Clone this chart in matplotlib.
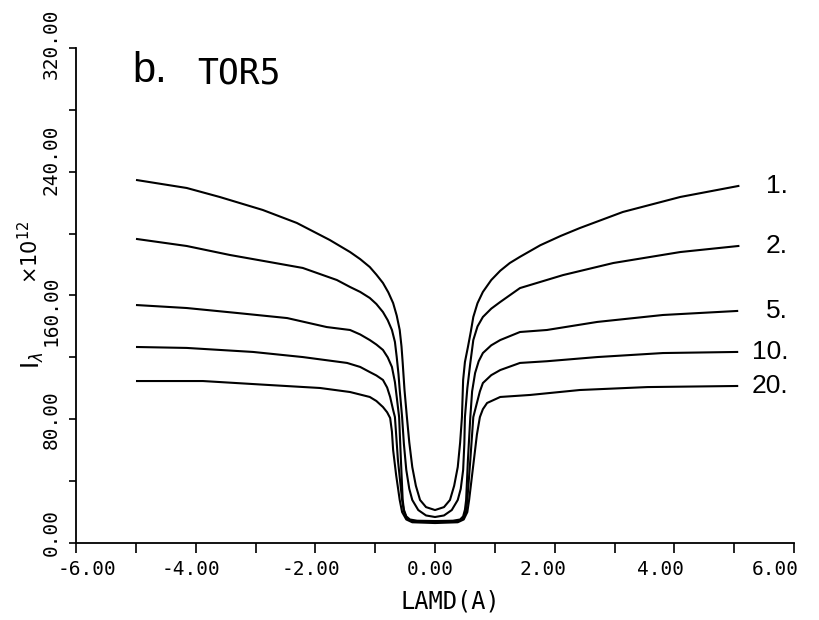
import numpy as np
import matplotlib
matplotlib.use("Agg")
from matplotlib import pyplot as plt
from matplotlib import transforms

# %% data (LAMD in A, I_lambda in units of 1e12)
lamd_1 = [-4.98, -4.15, -3.60, -2.88, -2.31, -1.76, -1.42, -1.25, -1.09, -0.98, -0.87, -0.78, -0.70, -0.64, -0.59,
          -0.56, -0.54, -0.51, -0.47, -0.43, -0.38, -0.32, -0.25, -0.15, 0.00,
          0.15, 0.25, 0.32, 0.38, 0.42, 0.45, 0.47, 0.50, 0.55, 0.60, 0.64, 0.71, 0.80, 0.94, 1.09, 1.25, 1.42, 1.76,
          2.10, 2.42, 3.14, 4.10, 5.07]
int_1 = [234.6, 229.5, 223.7, 215.3, 206.9, 195.9, 188.1, 183.5, 178.4, 173.5, 168.1, 162.0, 155.1, 147.0, 137.7,
         127.0, 116.4, 99.0, 81.4, 65.0, 49.1, 37.0, 27.8, 23.2, 21.3,
         23.2, 27.8, 37.0, 49.1, 65.0, 81.4, 105.4, 117.0, 126.7, 137.0, 146.1, 155.0, 162.3, 170.0, 176.0, 181.0, 185.0, 192.5,
         198.5, 203.6, 214.0, 223.7, 230.8]

lamd_2 = [-4.98, -4.15, -3.43, -2.76, -2.21, -1.64, -1.42, -1.25, -1.09, -0.98, -0.87, -0.79, -0.72, -0.67, -0.64,
          -0.61, -0.59, -0.55, -0.52, -0.48, -0.43, -0.38, -0.28, -0.15, 0.00,
          0.15, 0.28, 0.38, 0.43, 0.47, 0.49, 0.50, 0.54, 0.59, 0.64, 0.71, 0.80, 0.94, 1.09, 1.42, 2.14, 2.98, 4.10, 5.07]
int_2 = [196.5, 192.0, 186.2, 181.6, 177.8, 170.0, 165.5, 162.3, 158.4, 154.5, 149.3, 144.0, 137.7, 130.0, 120.2,
         109.0, 98.9, 81.4, 64.0, 47.2, 35.0, 27.8, 21.3, 17.8, 16.8,
         17.8, 21.3, 27.8, 35.0, 47.2, 64.0, 81.4, 100.0, 116.4, 131.2, 140.0, 146.1, 151.5, 155.8, 164.8, 173.2, 181.0, 188.1, 192.0]

lamd_5 = [-4.98, -4.15, -3.31, -2.47, -1.81, -1.42, -1.25, -1.09, -0.98, -0.87, -0.79, -0.72, -0.67, -0.64, -0.60,
          -0.57, -0.54, -0.52, -0.48, -0.42, -0.30, 0.00,
          0.30, 0.42, 0.47, 0.50, 0.52, 0.55, 0.59, 0.62, 0.67, 0.73, 0.80, 0.94, 1.09, 1.42, 1.87, 2.71, 3.81, 5.05]
int_5 = [153.8, 151.9, 148.7, 145.4, 139.6, 137.7, 134.8, 131.2, 128.3, 124.8, 120.0, 113.8, 104.0, 94.4, 81.4,
         53.7, 27.8, 21.5, 17.2, 15.2, 14.4, 14.2,
         14.4, 15.2, 17.2, 21.5, 27.8, 53.7, 81.4, 98.0, 109.9, 117.5, 122.8, 127.8, 131.2, 136.4, 137.7, 142.9, 147.4, 150.0]

lamd_10 = [-4.98, -4.15, -3.04, -2.21, -1.47, -1.25, -1.09, -0.98, -0.87, -0.80, -0.75, -0.70, -0.67, -0.62, -0.55,
           -0.52, -0.47, -0.38, 0.00,
           0.38, 0.47, 0.52, 0.54, 0.59, 0.64, 0.70, 0.75, 0.80, 0.94, 1.09, 1.42, 1.87, 2.71, 3.81, 5.05]
int_10 = [126.7, 126.1, 123.5, 120.2, 116.4, 113.8, 110.5, 108.3, 105.4, 100.5, 94.4, 86.0, 81.4, 53.7, 27.8,
          20.5, 15.8, 14.1, 13.6,
          14.1, 15.8, 20.5, 27.8, 53.7, 81.4, 90.5, 98.0, 103.4, 108.5, 111.8, 116.4, 117.5, 120.2, 122.8, 123.5]

lamd_20 = [-4.98, -3.88, -2.76, -1.92, -1.42, -1.09, -0.98, -0.87, -0.80, -0.75, -0.72, -0.70, -0.65, -0.59, -0.55,
           -0.48, -0.38, 0.00,
           0.38, 0.48, 0.54, 0.57, 0.65, 0.70, 0.75, 0.80, 0.87, 1.09, 1.59, 2.42, 3.55, 5.05]
int_20 = [104.7, 104.7, 102.1, 100.2, 97.6, 94.4, 91.8, 87.9, 84.5, 80.8, 72.0, 60.1, 44.0, 27.8, 20.0,
          15.2, 13.4, 12.9,
          13.4, 15.2, 20.0, 27.8, 53.7, 70.0, 81.4, 86.5, 90.5, 94.4, 95.7, 98.9, 100.8, 101.5]

curve_labels = ["1.", "2.", "5.", "10.", "20."]
x_ticks = [-6, -4, -2, 0, 2, 4, 6]
y_ticks = [0, 80, 160, 240, 320]

# the plotter put its tick labels a little off the ticks (offsets in pixels)
x_lab_shift = [11, -5, -4, -5, -12, -14, -19]
y_lab_shift = [10, 0, -15, 12, 4]

# %% figure
mono = "DejaVu Sans Mono"
fig = plt.figure(figsize=(8.19, 6.2), dpi=100)
ax = fig.add_axes([0.0928, 0.1242, 0.8767, 0.7984])

all_x = [lamd_1, lamd_2, lamd_5, lamd_10, lamd_20]
all_y = [int_1, int_2, int_5, int_10, int_20]
for lx, ly, lab in zip(all_x, all_y, curve_labels):
    ax.plot(lx, ly, color="k", lw=1.5, solid_joinstyle="round")
    ax.text(5.9, ly[-1], lab, ha="right", va="center", fontsize=19,
            family="Liberation Sans", clip_on=False) # curve tag at the end of the line

ax.set_xlim(-6, 6)
ax.set_ylim(0, 320)
ax.spines["top"].set_visible(False)
ax.spines["right"].set_visible(False)
ax.spines["left"].set_linewidth(1.3)
ax.spines["bottom"].set_linewidth(1.3)

# x ticks: labels every 2, extra ticks every 1
ax.set_xticks(x_ticks)
ax.set_xticklabels(["%.2f" % v for v in x_ticks], family=mono, fontsize=14)
ax.set_xticks(np.arange(-5, 6, 2), minor=True)
ax.tick_params(axis="x", which="both", direction="out", length=7, width=1.2, pad=5)

# y ticks: labels every 80, extra ticks every 40
ax.set_yticks(y_ticks)
ax.set_yticklabels(["%.2f" % v for v in y_ticks], family=mono, fontsize=14, rotation=90, va="center")
ax.set_yticks(np.arange(40, 320, 80), minor=True)
ax.tick_params(axis="y", which="both", direction="out", length=5, width=1.2, pad=6)

for lab, dx in zip(ax.get_xticklabels(), x_lab_shift):
    lab.set_transform(lab.get_transform() + transforms.ScaledTranslation(dx / 100, 0, fig.dpi_scale_trans))
for lab, dy in zip(ax.get_yticklabels(), y_lab_shift):
    lab.set_transform(lab.get_transform() + transforms.ScaledTranslation(0, dy / 100, fig.dpi_scale_trans))

# %% texts
ax.text(0.079, 0.931, "b.", transform=ax.transAxes, ha="left", va="baseline", fontsize=30, family="Liberation Sans")
ax.text(0.1685, 0.929, "TOR5", transform=ax.transAxes, ha="left", va="baseline", fontsize=25, family=mono)
fig.text(450 / 819, 1 - 602 / 620, "LAMD(A)", ha="center", va="center", fontsize=17, family=mono)
fig.text(33 / 819, 1 - 360 / 620, r"$\mathrm{I}_{\lambda}$", ha="center", va="center", fontsize=17, rotation=90)
fig.text(30 / 819, 1 - 252 / 620, r"$\times\mathrm{10}^{12}$", ha="center", va="center", fontsize=15, rotation=90)

fig.savefig("out.png", dpi=100)
